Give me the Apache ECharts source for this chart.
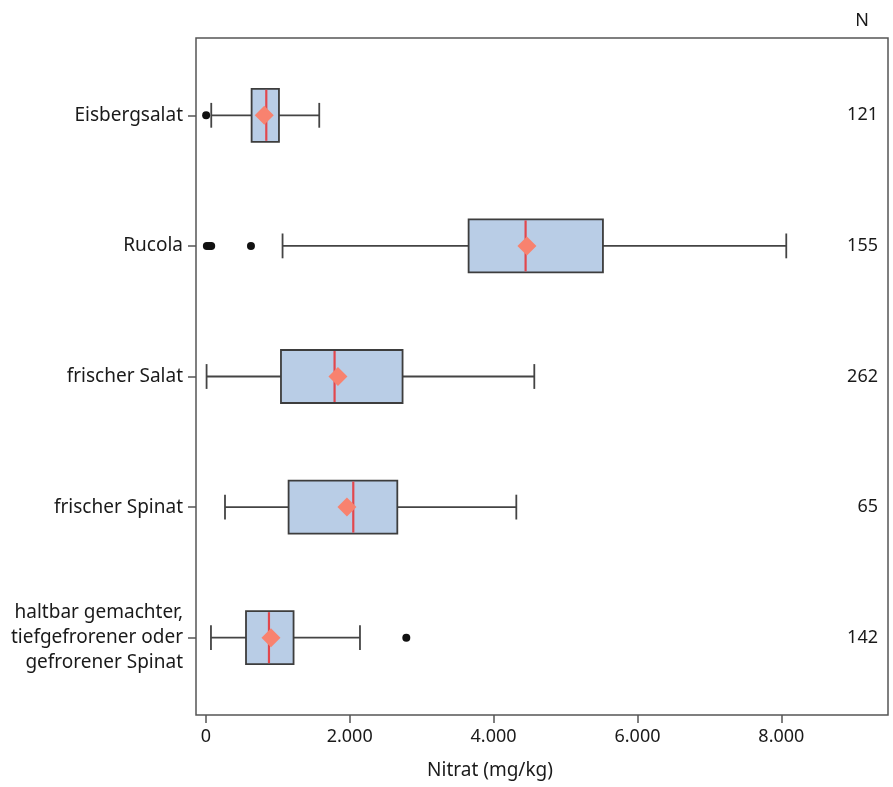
<!DOCTYPE html>
<html>
<head>
<meta charset="utf-8">
<script src="https://cdn.jsdelivr.net/npm/echarts@6/dist/echarts.min.js"></script>
<style>
html, body { margin: 0; padding: 0; background: #fff; }
#chart { width: 893px; height: 787px; }
</style>
</head>
<body>
<div id="chart"></div>
<script>
var categories = ['Eisbergsalat', 'Rucola', 'frischer Salat', 'frischer Spinat',
	'haltbar gemachter,\ntiefgefrorener oder\ngefrorener Spinat'];
var whiskerLow = [76, 1067, 11, 267, 72];
var q1 = [637, 3653, 1045, 1151, 559];
var median = [841, 4445, 1790, 2050, 878];
var q3 = [1017, 5520, 2735, 2662, 1220];
var whiskerHigh = [1577, 8068, 4566, 4316, 2143];
var means = [813, 4464, 1837, 1962, 906];
var outlierCat = [0, 1, 1, 1, 1, 4];
var outlierVal = [5, 15, 50, 75, 628, 2787];
var counts = ['121', '155', '262', '65', '142'];
var xTicks = [0, 2000, 4000, 6000, 8000];

var font = 'Noto Sans';
var xMin = -136, xMax = 9482;

var boxData = categories.map(function (c, i) {
	return [i, whiskerLow[i], q1[i], median[i], q3[i], whiskerHigh[i]];
});
var meanData = means.map(function (v, i) { return [v, i]; });
var outlierData = outlierVal.map(function (v, i) { return [v, outlierCat[i]]; });

function fmt(v) {
	return String(v).replace(/\B(?=(\d{3})+(?!\d))/g, '.');
}

function renderBox(params, api) {
	var yi = api.value(0);
	var band = api.size([0, 1])[1];
	var bh = band * 0.406, ch = band * 0.19;
	var pWl = api.coord([api.value(1), yi]);
	var pQ1 = api.coord([api.value(2), yi]);
	var pMed = api.coord([api.value(3), yi]);
	var pQ3 = api.coord([api.value(4), yi]);
	var pWh = api.coord([api.value(5), yi]);
	var y = pQ1[1];
	var lineStyle = { stroke: '#444', lineWidth: 1.8 };
	return {
		type: 'group',
		children: [
			{ type: 'line', shape: { x1: pWl[0], y1: y, x2: pQ1[0], y2: y }, style: lineStyle },
			{ type: 'line', shape: { x1: pQ3[0], y1: y, x2: pWh[0], y2: y }, style: lineStyle },
			{ type: 'line', shape: { x1: pWl[0], y1: y - ch / 2, x2: pWl[0], y2: y + ch / 2 }, style: lineStyle },
			{ type: 'line', shape: { x1: pWh[0], y1: y - ch / 2, x2: pWh[0], y2: y + ch / 2 }, style: lineStyle },
			{ type: 'rect', shape: { x: pQ1[0], y: y - bh / 2, width: pQ3[0] - pQ1[0], height: bh },
				style: { fill: '#b9cde6', stroke: '#3d3d3d', lineWidth: 1.8 } },
			{ type: 'line', shape: { x1: pMed[0], y1: y - bh / 2 + 1, x2: pMed[0], y2: y + bh / 2 - 1 },
				style: { stroke: '#e2474d', lineWidth: 2.2 } }
		]
	};
}

var chart = echarts.init(document.getElementById('chart'));
chart.setOption({
	animation: false,
	textStyle: { fontFamily: font },
	title: {
		text: 'N', right: 19, top: 7,
		textStyle: { fontFamily: font, fontSize: 18, fontWeight: 'normal', color: '#1a1a1a' }
	},
	grid: [
		{ left: 196, width: 692, top: 38, bottom: 72, show: true, borderColor: '#555', borderWidth: 1.5 },
		{ left: 196, width: 692, top: 50, height: 653 }
	],
	xAxis: [
		{
			gridIndex: 0, type: 'value', min: xMin, max: xMax,
			name: 'Nitrat (mg/kg)', nameLocation: 'middle', nameGap: 46,
			nameTextStyle: { fontFamily: font, fontSize: 19, color: '#1a1a1a', padding: [0, 104, 0, 0] },
			axisLine: { show: false },
			splitLine: { show: false },
			axisTick: { show: true, inside: false, length: 8, customValues: xTicks, lineStyle: { color: '#555', width: 1.5 } },
			axisLabel: { customValues: xTicks, formatter: fmt, fontSize: 18, color: '#1a1a1a', margin: 13 }
		},
		{ gridIndex: 1, type: 'value', min: xMin, max: xMax, show: false }
	],
	yAxis: [
		{ gridIndex: 0, type: 'value', show: false },
		{
			gridIndex: 1, type: 'category', inverse: true, data: categories, position: 'left',
			axisLine: { show: false, onZero: false },
			axisTick: { show: true, inside: false, alignWithLabel: true, length: 8, lineStyle: { color: '#555', width: 1.5 } },
			axisLabel: { fontSize: 19, color: '#1a1a1a', margin: 13, lineHeight: 25, align: 'right' }
		},
		{
			gridIndex: 1, type: 'category', inverse: true, data: counts, position: 'right',
			axisLine: { show: false, onZero: false }, axisTick: { show: false },
			axisLabel: { inside: true, fontSize: 18, color: '#1a1a1a', margin: 10 }
		}
	],
	series: [
		{
			type: 'custom', xAxisIndex: 1, yAxisIndex: 1,
			renderItem: renderBox, data: boxData,
			encode: { x: [1, 2, 3, 4, 5], y: 0 }, z: 2
		},
		{
			type: 'scatter', xAxisIndex: 1, yAxisIndex: 1, data: meanData,
			symbol: 'diamond', symbolSize: 19, itemStyle: { color: '#f8826f', opacity: 1 }, z: 4
		},
		{
			type: 'scatter', xAxisIndex: 1, yAxisIndex: 1, data: outlierData,
			symbol: 'circle', symbolSize: 8, itemStyle: { color: '#111', opacity: 1 }, z: 4
		}
	]
});
</script>
</body>
</html>
